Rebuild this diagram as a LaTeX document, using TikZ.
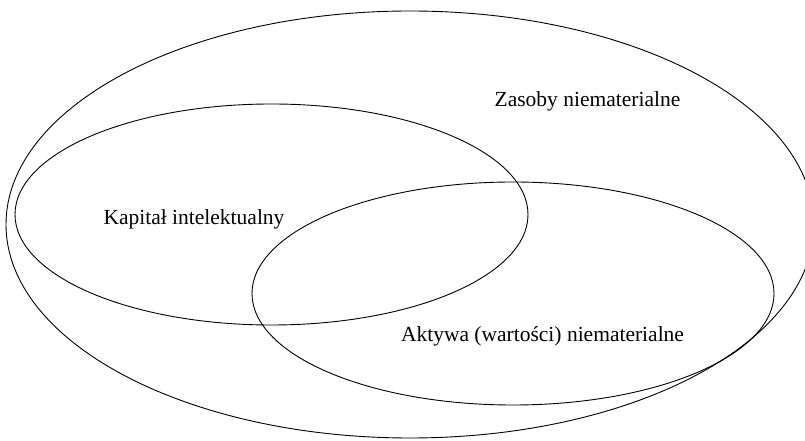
\documentclass[tikz,border=0pt]{standalone}
\usepackage{fontspec}
\setmainfont{Liberation Serif}
\begin{document}
\begin{tikzpicture}[x=1pt,y=1pt,
  set/.style={draw=black,line width=0.9pt},
  lbl/.style={anchor=base,inner sep=0pt,font=\fontsize{21.5}{26}\selectfont}]
\useasboundingbox (0,0) rectangle (805,441);
\draw[set] (410,216.5) ellipse [x radius=404, y radius=213.5];
\draw[set] (271.5,226.5) ellipse [x radius=256.5, y radius=110.5];
\draw[set] (513,147.5) ellipse [x radius=261, y radius=111.5];
\node[lbl] (zas) at (587.5,334) {Zasoby niematerialne};
\node[lbl] (kap) at (194,216) {Kapitał intelektualny};
\node[lbl] (akt) at (542.5,99) {Aktywa (wartości) niematerialne};
\end{tikzpicture}
\end{document}
